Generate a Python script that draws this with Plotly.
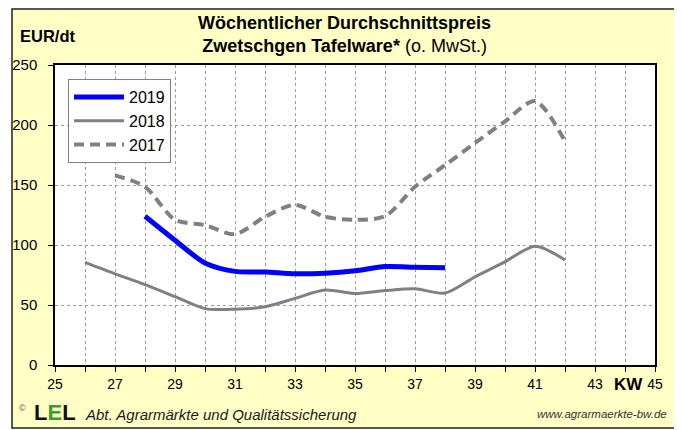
import plotly.graph_objects as go

# ---- data ----
weeks_2019 = [28, 29, 30, 31, 32, 33, 34, 35, 36, 37, 38]
price_2019 = [124, 104, 85, 78, 77.5, 76, 76.5, 78.5, 82, 81.5, 81]

weeks_2018 = [26, 27, 28, 29, 30, 31, 32, 33, 34, 35, 36, 37, 38, 39, 40, 41, 42]
price_2018 = [85.5, 76, 67, 57, 47, 46.5, 48.5, 55.5, 62.5, 59.5, 62, 63.5, 60, 73.5, 86, 99, 87.5]

weeks_2017 = [27, 28, 29, 30, 31, 32, 33, 34, 35, 36, 37, 38, 39, 40, 41, 42]
price_2017 = [158, 148.5, 121, 116.5, 109, 123.5, 133.5, 123.5, 121, 124, 148.5, 166.5, 185, 203, 220, 186.5]

x_ticks = [25, 27, 29, 31, 33, 35, 37, 39, 41, 43, 45]
y_ticks = [0, 50, 100, 150, 200, 250]

# page has an 8px default body margin; work in page pixels and shift
OFF = 8
W, H = 682 - OFF, 430 - OFF
L, R, T, B = 55, 655, 65, 365  # plot area in page pixels


def px(x):
    return (x - L) / (R - L)


def py(y):
    return (B - y) / (B - T)


FONT = "Arial, Liberation Sans, sans-serif"
YELLOW = "#FFFFC6"
GRAY = "#808080"

fig = go.Figure()
fig.add_trace(go.Scatter(x=weeks_2019, y=price_2019, name="2019", mode="lines",
                         line=dict(color="#0000FF", width=5, shape="spline", smoothing=0.8)))
fig.add_trace(go.Scatter(x=weeks_2018, y=price_2018, name="2018", mode="lines",
                         line=dict(color=GRAY, width=3, shape="spline", smoothing=0.8)))
fig.add_trace(go.Scatter(x=weeks_2017, y=price_2017, name="2017", mode="lines",
                         line=dict(color=GRAY, width=4, dash="10px,6px", shape="spline", smoothing=0.8)))

fig.update_layout(
    width=W, height=H,
    margin=dict(l=L - OFF, r=682 - R, t=T - OFF, b=430 - B, pad=0),
    paper_bgcolor="white",
    plot_bgcolor="white",
    font=dict(family=FONT, color="black"),
    showlegend=True,
    legend=dict(x=px(68), y=py(79), xanchor="left", yanchor="top",
                bgcolor="white", bordercolor=GRAY, borderwidth=1,
                font=dict(size=16, family=FONT), tracegroupgap=0,
                itemwidth=50),
    xaxis=dict(range=[25, 45], tickvals=x_ticks, ticks="outside", ticklen=5,
               tickcolor="black", tickfont=dict(size=14, family=FONT),
               automargin=False,
               showgrid=True, gridcolor="#9a9a9a", griddash="dot", gridwidth=1,
               minor=dict(dtick=1, tick0=25, ticks="outside", ticklen=5, tickcolor="black",
                          showgrid=True, gridcolor="#9a9a9a", griddash="dot", gridwidth=1),
               showline=True, linecolor="black", linewidth=1.5, mirror=True,
               zeroline=False, fixedrange=True),
    yaxis=dict(range=[0, 250], tickvals=y_ticks, ticks="outside", ticklen=5,
               tickcolor="black", tickfont=dict(size=15, family=FONT),
               ticklabelstandoff=8, automargin=False,
               showgrid=True, gridcolor="#9a9a9a", griddash="dot", gridwidth=1,
               showline=True, linecolor="black", linewidth=1.5, mirror=True,
               zeroline=False, fixedrange=True),
)

# background panel (yellow with dark border) and white plot area, below grid/traces
fig.add_shape(type="rect", xref="paper", yref="paper", layer="below",
              x0=px(12), x1=px(676), y0=py(428), y1=py(9),
              fillcolor=YELLOW, line=dict(color="#222222", width=1.5))
fig.add_shape(type="rect", xref="paper", yref="paper", layer="below",
              x0=0, x1=1, y0=0, y1=1, fillcolor="white", line=dict(width=0))

ann = [
    dict(x=px(344), y=py(34),
         text="<b>Wöchentlicher Durchschnittspreis</b><br><b>Zwetschgen Tafelware*</b> (o. MwSt.)",
         font=dict(size=18, family=FONT), align="center"),
    dict(x=px(48), y=py(36), text="<b>EUR/dt</b>", font=dict(size=16.5, family=FONT)),
    dict(x=px(628), y=py(384), text="<b>KW</b>", font=dict(size=17, family=FONT)),
    dict(x=px(22), y=py(408), text="©", font=dict(size=9, family=FONT, color="#555555")),
    dict(x=px(55), y=py(412),
         text="<b>L<span style='color:#3c9a2e'>E</span>L</b>",
         font=dict(size=22, family=FONT, color="#111111")),
    dict(x=px(83), y=py(414), xanchor="left",
         text="<i>Abt. Agrarmärkte und Qualitätssicherung</i>",
         font=dict(size=15, family=FONT, color="#1a1a1a")),
    dict(x=px(669), y=py(414), xanchor="right",
         text="<i>www.agrarmaerkte-bw.de</i>",
         font=dict(size=11.5, family=FONT, color="#333333")),
]
for a in ann:
    a.setdefault("xanchor", "center")
    fig.add_annotation(xref="paper", yref="paper", showarrow=False, yanchor="middle", **a)

fig.write_html("out.html")
